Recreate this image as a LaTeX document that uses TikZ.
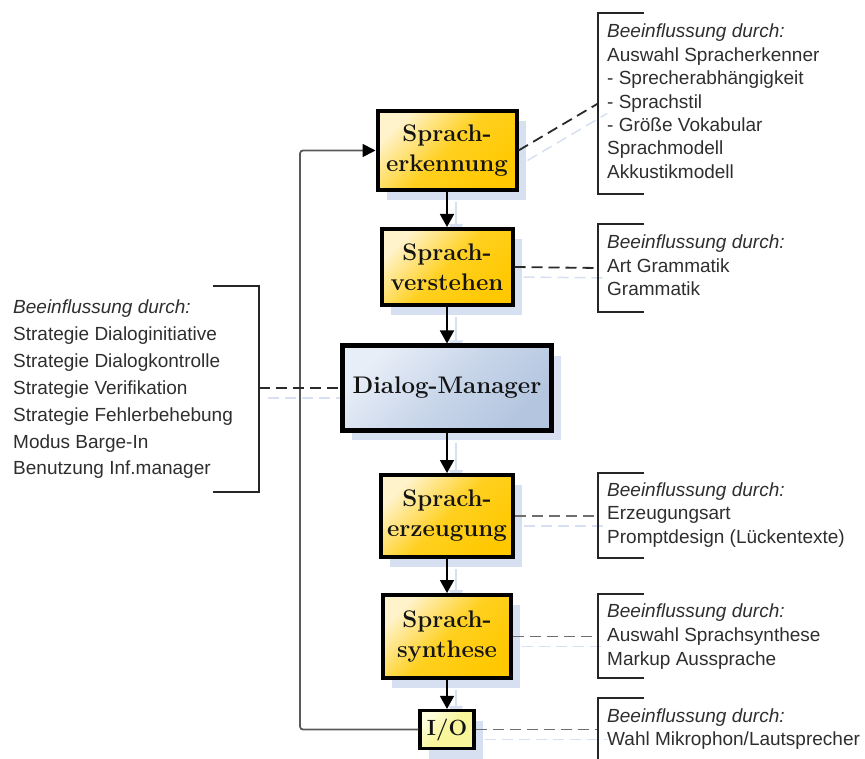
\documentclass[tikz,border=0pt]{standalone}
\usepackage{fontspec}
\newfontfamily\notefont{Liberation Sans}
\usetikzlibrary{arrows.meta,shadows}

\definecolor{shadowblue}{HTML}{D6E0F0}
\definecolor{goldlight}{HTML}{FFF3CC}
\definecolor{goldmid}{HTML}{FFD020}
\definecolor{golddark}{HTML}{FFC800}
\definecolor{bluelight}{HTML}{E8EEF7}
\definecolor{bluemid}{HTML}{C9D6EA}
\definecolor{bluedark}{HTML}{B3C5DF}
\definecolor{iolight}{HTML}{FFFFE0}
\definecolor{iofill}{HTML}{F8F59A}
\definecolor{textdark}{HTML}{141414}
\definecolor{notegray}{HTML}{2E2E2E}
\definecolor{linkdark}{HTML}{2A2A2A}
\definecolor{linkgray}{HTML}{6E6E6E}
\definecolor{loopgray}{HTML}{5A5A5A}

\pgfdeclarelayer{background}
\pgfsetlayers{background,main}

\tikzset{
  boxshadow/.style={drop shadow={shadow xshift=9pt, shadow yshift=-10pt, fill=shadowblue, opacity=1}},
  stage/.style={draw=black, line width=4pt, inner sep=0pt, align=center, text=textdark,
    font=\bfseries\fontsize{24}{30}\selectfont,
    top color=goldlight, bottom color=golddark, middle color=goldmid, shading angle=45, boxshadow},
  manager/.style={draw=black, line width=5pt, inner sep=0pt, text=textdark,
    font=\bfseries\fontsize{24}{30}\selectfont,
    top color=bluelight, bottom color=bluedark, middle color=bluemid, shading angle=45, boxshadow},
  iobox/.style={draw=black, line width=3.2pt, inner sep=0pt, text=textdark,
    top color=iolight, bottom color=iofill, middle color=iofill, shading angle=45,
    font=\bfseries\fontsize{22}{26}\selectfont, boxshadow},
  flow/.style={line width=1.6pt, -{Triangle[length=13pt,width=14pt]}},
  flowshadow/.style={flow, draw=shadowblue, -{Triangle[length=13pt,width=14pt,color=shadowblue]}},
  feedback/.style={line width=1.8pt, draw=loopgray, rounded corners=3pt,
    -{Triangle[length=13pt,width=13pt,color=black]}},
  bracket/.style={line width=2pt, draw=black!85},
  link/.style={line width=1.8pt, dash pattern=on 11pt off 6pt},
  linkshadow/.style={link, line width=1.5pt, draw=shadowblue},
  notehead/.style={anchor=base west, inner sep=0pt, text=notegray,
    font=\notefont\itshape\fontsize{19}{23}\selectfont},
  noteline/.style={anchor=base west, inner sep=0pt, text=notegray,
    font=\notefont\fontsize{19}{23}\selectfont}
}

\begin{document}
\begin{tikzpicture}[x=1pt,y=-1pt]
\useasboundingbox (0,0) rectangle (865,759);

% processing chain
\node[stage, minimum width=139pt, minimum height=79pt] (erk) at (447,150.5) {Sprach-\\erkennung};
\node[stage, minimum width=131pt, minimum height=76pt] (ver) at (447,267) {Sprach-\\verstehen};
\node[manager, minimum width=209pt, minimum height=84pt] (dm) at (447,388) {Dialog-Manager};
\node[stage, minimum width=132pt, minimum height=82pt] (erz) at (447,516) {Sprach-\\erzeugung};
\node[stage, minimum width=128pt, minimum height=83pt] (syn) at (447,636.5) {Sprach-\\synthese};
\node[iobox, minimum width=54pt, minimum height=38pt] (io) at (447,729.5) {I/O};

% bracket anchor points
\coordinate (b1) at (598,103.5);
\coordinate (b2) at (598,268);
\coordinate (b3) at (259,388);
\coordinate (b4) at (598,516);
\coordinate (b5) at (598,636.5);
\coordinate (b6) at (598,729.5);
\coordinate (loop) at (300,0);

% shadows of arrows and dashed links
\begin{pgfonlayer}{background}
  \begin{scope}[transform canvas={shift={(9pt,-10pt)}}]
    \draw[flowshadow] (erk.south) -- (ver.north);
    \draw[flowshadow] (ver.south) -- (dm.north);
    \draw[flowshadow] (dm.south) -- (erz.north);
    \draw[flowshadow] (erz.south) -- (syn.north);
    \draw[flowshadow] (syn.south) -- (io.north);
    \draw[linkshadow] (erk.east) -- (b1);
    \draw[linkshadow] (ver.east) -- (b2);
    \draw[linkshadow] (b3) -- (dm.west);
    \draw[linkshadow] (erz.east) -- (b4);
    \draw[linkshadow] (syn.east) -- (b5);
    \draw[linkshadow] (io.east) -- (b6);
  \end{scope}
\end{pgfonlayer}

% feedback loop from I/O back to recognition
\draw[feedback] (io.west) -| (loop |- erk.west) -- (erk.west);

% main flow
\draw[flow] (erk.south) -- (ver.north);
\draw[flow] (ver.south) -- (dm.north);
\draw[flow] (dm.south) -- (erz.north);
\draw[flow] (erz.south) -- (syn.north);
\draw[flow] (syn.south) -- (io.north);

% dashed links to the annotations
\draw[link, draw=linkdark] (erk.east) -- (b1);
\draw[link, draw=linkdark] (ver.east) -- (b2);
\draw[link, draw=linkdark] (b3) -- (dm.west);
\draw[link, draw=linkgray] (erz.east) -- (b4);
\draw[link, draw=linkgray] (syn.east) -- (b5);
\draw[link, draw=linkgray] (io.east) -- (b6);

% brackets
\draw[bracket] (644,13) -- (598,13) -- (598,194) -- (644,194);
\draw[bracket] (644,224) -- (598,224) -- (598,312) -- (644,312);
\draw[bracket] (213,286) -- (259,286) -- (259,492) -- (213,492);
\draw[bracket] (644,473) -- (598,473) -- (598,558) -- (644,558);
\draw[bracket] (644,594) -- (598,594) -- (598,678) -- (644,678);
\draw[bracket] (644,698) -- (598,698) -- (598,759);

% annotation texts
\node[notehead] (h1) at (607,38) {Beeinflussung durch:};
\foreach \t [count=\i] in {Auswahl Spracherkenner, - Sprecherabhängigkeit, - Sprachstil,
    - Größe Vokabular, Sprachmodell, Akkustikmodell}
  \node[noteline] (n1-\i) at (607,{38+23.4*\i}) {\t};

\node[notehead] (h2) at (607,249) {Beeinflussung durch:};
\foreach \t [count=\i] in {Art Grammatik, Grammatik}
  \node[noteline] (n2-\i) at (607,{249+23.5*\i}) {\t};

\node[notehead] (h3) at (13,314) {Beeinflussung durch:};
\foreach \t [count=\i] in {Strategie Dialoginitiative, Strategie Dialogkontrolle,
    Strategie Verifikation, Strategie Fehlerbehebung, Modus Barge-In, Benutzung Inf.manager}
  \node[noteline] (n3-\i) at (13,{314+26.8*\i}) {\t};

\node[notehead] (h4) at (607,496) {Beeinflussung durch:};
\foreach \t [count=\i] in {Erzeugungsart, Promptdesign (Lückentexte)}
  \node[noteline] (n4-\i) at (607,{496+23.5*\i}) {\t};

\node[notehead] (h5) at (607,617) {Beeinflussung durch:};
\foreach \t [count=\i] in {Auswahl Sprachsynthese, Markup Aussprache}
  \node[noteline] (n5-\i) at (607,{617+24*\i}) {\t};

\node[notehead] (h6) at (607,722) {Beeinflussung durch:};
\node[noteline] (n6-1) at (607,745) {Wahl Mikrophon/Lautsprecher};
\end{tikzpicture}
\end{document}
